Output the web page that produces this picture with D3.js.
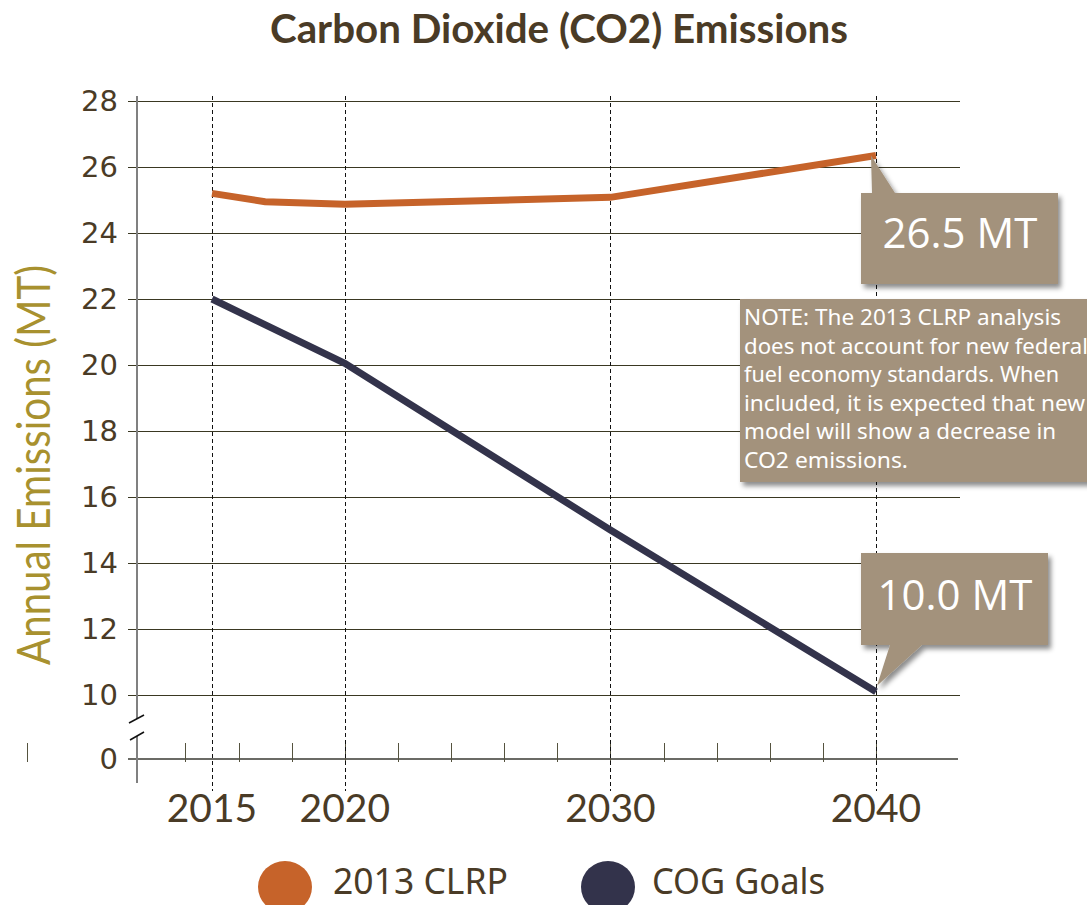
<!DOCTYPE html>
<html>
<head>
<meta charset="utf-8">
<script src="https://cdn.jsdelivr.net/npm/d3@7"></script>
<style>
  body { margin: 0; background: #fff; }
  svg { display: block; }
</style>
</head>
<body>
<svg id="chart" width="1087" height="905"></svg>
<script>
// data
const years = [2015, 2017, 2020, 2030, 2040]
const clrp = [25.2, 24.95, 24.87, 25.08, 26.35]
const cogYears = [2015, 2020, 2030, 2040]
const cog = [22.0, 20.05, 15.0, 10.1]
const yTicks = [0, 10, 12, 14, 16, 18, 20, 22, 24, 26, 28]
const xLabels = [2015, 2020, 2030, 2040]
const minorTicks = d3.range(2014, 2041, 2)
const seriesNames = ['2013 CLRP', 'COG Goals']
const seriesColors = ['#c6632a', '#33334b']
const calloutLabels = ['26.5 MT', '10.0 MT']
const noteLines = [
  'NOTE: The 2013 CLRP analysis',
  'does not account for new federal',
  'fuel economy standards. When',
  'included, it is expected that new',
  'model will show a decrease in',
  'CO2 emissions.'
]
const noteWidths = [317, 344, 315, 341, 312, 164]

const svg = d3.select('#chart')
const brown = '#4a3b26'

/* scales : broken axis, 0 sits just under 10 */
const x = d3.scaleLinear().domain([2015, 2040]).range([212, 876])
const y = d3.scaleLinear().domain([0, 10, 28]).range([759, 695, 101])

const defs = svg.append('defs')
const f = defs.append('filter').attr('id', 'shadow').attr('x', '-10%').attr('y', '-10%').attr('width', '130%').attr('height', '130%')
f.append('feDropShadow').attr('dx', 3).attr('dy', 4).attr('stdDeviation', 2.5)
  .attr('flood-color', '#000').attr('flood-opacity', 0.45)

/* title */
svg.append('text')
  .attr('x', 559).attr('y', 43)
  .attr('text-anchor', 'middle')
  .attr('font-family', 'Lato, sans-serif').attr('font-weight', 700)
  .attr('font-size', 40).attr('fill', brown)
  .attr('textLength', 578).attr('lengthAdjust', 'spacingAndGlyphs')
  .text('Carbon Dioxide (CO2) Emissions')

/* y label */
svg.append('text')
  .attr('transform', 'translate(50,465) rotate(-90)')
  .attr('text-anchor', 'middle')
  .attr('font-family', 'Lato, sans-serif').attr('font-weight', 400)
  .attr('font-size', 46).attr('fill', '#a8912f')
  .attr('textLength', 400).attr('lengthAdjust', 'spacingAndGlyphs')
  .text('Annual Emissions (MT)')

/* gridlines (not at 0) */
const g = svg.append('g')
g.selectAll('.grid')
  .data(yTicks.filter(d => d > 0))
  .join('line')
  .attr('x1', 128).attr('x2', 960)
  .attr('y1', d => y(d) + 0.5).attr('y2', d => y(d) + 0.5)
  .attr('stroke', '#3a3822').attr('stroke-width', 1)

/* zero baseline */
g.append('line')
  .attr('x1', 128).attr('x2', 958)
  .attr('y1', y(0)).attr('y2', y(0))
  .attr('stroke', '#6b6b66').attr('stroke-width', 2)

/* minor ticks on the baseline */
g.selectAll('.mtick')
  .data(minorTicks)
  .join('line')
  .attr('x1', d => Math.round(x(d)) + 0.5).attr('x2', d => Math.round(x(d)) + 0.5)
  .attr('y1', y(0) - 16).attr('y2', y(0) + 3)
  .attr('stroke', '#55533f').attr('stroke-width', 1)

/* stray tick at far left */
g.append('line').attr('x1', 27.5).attr('x2', 27.5).attr('y1', 743).attr('y2', 762)
  .attr('stroke', '#55533f').attr('stroke-width', 1)

/* dashed year guides */
g.selectAll('.guide')
  .data(xLabels)
  .join('line')
  .attr('x1', d => Math.round(x(d)) + 0.5).attr('x2', d => Math.round(x(d)) + 0.5)
  .attr('y1', 96).attr('y2', 791)
  .attr('stroke', '#111').attr('stroke-width', 1)
  .attr('stroke-dasharray', '4,3')

/* y axis line with break */
g.append('line').attr('x1', 137).attr('x2', 137).attr('y1', 96).attr('y2', 719)
  .attr('stroke', '#808080').attr('stroke-width', 2)
g.append('line').attr('x1', 137).attr('x2', 137).attr('y1', 736).attr('y2', 783)
  .attr('stroke', '#808080').attr('stroke-width', 2)
g.append('line').attr('x1', 129).attr('y1', 723).attr('x2', 144).attr('y2', 715)
  .attr('stroke', '#111').attr('stroke-width', 1.5)
g.append('line').attr('x1', 130).attr('y1', 740).attr('x2', 144).attr('y2', 732)
  .attr('stroke', '#111').attr('stroke-width', 1.5)

/* y tick labels */
g.selectAll('.ylab')
  .data(yTicks)
  .join('text')
  .attr('x', 118).attr('y', d => y(d))
  .attr('dy', '0.36em')
  .attr('text-anchor', 'end')
  .attr('font-family', 'DejaVu Sans, sans-serif')
  .attr('font-size', 29).attr('fill', brown)
  .text(d => d)

/* x labels */
g.selectAll('.xlab')
  .data(xLabels)
  .join('text')
  .attr('x', d => x(d)).attr('y', 822)
  .attr('text-anchor', 'middle')
  .attr('font-family', 'Lato, sans-serif')
  .attr('font-size', 39).attr('fill', brown)
  .text(d => d)

/* lines */
const line = d3.line().x(d => x(d[0])).y(d => y(d[1]))
svg.append('path')
  .datum(d3.zip(years, clrp))
  .attr('d', line)
  .attr('fill', 'none').attr('stroke', seriesColors[0])
  .attr('stroke-width', 7)
svg.append('path')
  .datum(d3.zip(cogYears, cog))
  .attr('d', line)
  .attr('fill', 'none').attr('stroke', seriesColors[1])
  .attr('stroke-width', 7)

/* callouts */
const tipTop = [x(2040) - 5, y(clrp[clrp.length - 1])]
svg.append('path')
  .attr('d', `M861,193 L872,193 L${tipTop[0]},${tipTop[1]} L895,193 L1058,193 L1058,284 L861,284 Z`)
  .attr('fill', '#a3927c').attr('filter', 'url(#shadow)')
svg.append('text')
  .attr('x', 960).attr('y', 248)
  .attr('text-anchor', 'middle')
  .attr('font-family', 'Open Sans, sans-serif')
  .attr('font-size', 42).attr('fill', '#fff')
  .text(calloutLabels[0])

const tipBot = [x(2040) + 1, y(cog[cog.length - 1]) - 6]
svg.append('path')
  .attr('d', `M861,553 L1048,553 L1048,645 L922,645 L${tipBot[0]},${tipBot[1]} L890,645 L861,645 Z`)
  .attr('fill', '#a3927c').attr('filter', 'url(#shadow)')
svg.append('text')
  .attr('x', 955).attr('y', 610)
  .attr('text-anchor', 'middle')
  .attr('font-family', 'Open Sans, sans-serif')
  .attr('font-size', 42).attr('fill', '#fff')
  .text(calloutLabels[1])

/* note box */
svg.append('rect')
  .attr('x', 740).attr('y', 299).attr('width', 360).attr('height', 183)
  .attr('fill', '#a3927c').attr('filter', 'url(#shadow)')
svg.selectAll('.note')
  .data(noteLines)
  .join('text')
  .attr('x', 744).attr('y', (d, i) => 325 + i * 28.6)
  .attr('font-family', 'Noto Sans, sans-serif')
  .attr('font-size', 22).attr('fill', '#fff')
  .attr('textLength', (d, i) => noteWidths[i]).attr('lengthAdjust', 'spacingAndGlyphs')
  .text(d => d)

/* legend */
const legX = [285, 608]
const legText = [333, 652]
const leg = svg.selectAll('.leg').data(seriesNames).join('g')
leg.append('ellipse')
  .attr('cx', (d, i) => legX[i]).attr('cy', 887)
  .attr('rx', 27).attr('ry', 26)
  .attr('fill', (d, i) => seriesColors[i])
leg.append('text')
  .attr('x', (d, i) => legText[i]).attr('y', 894)
  .attr('font-family', 'Noto Sans, sans-serif')
  .attr('font-size', 36).attr('fill', brown)
  .attr('textLength', (d, i) => [175, 173][i]).attr('lengthAdjust', 'spacingAndGlyphs')
  .text(d => d)
</script>
</body>
</html>
